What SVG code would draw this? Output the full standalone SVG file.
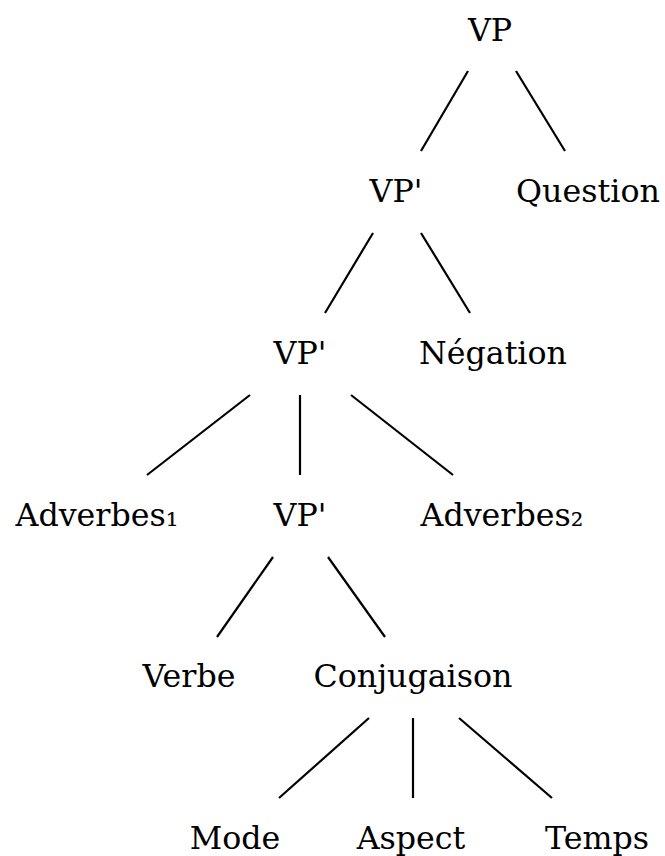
<svg xmlns="http://www.w3.org/2000/svg" width="665" height="856" viewBox="0 0 665 856">
<style>
text{font-family:"DejaVu Serif",serif;font-size:31.7px;fill:#000;text-anchor:middle}
line{stroke:#000;stroke-width:2.2}
</style>
<rect width="665" height="856" fill="#fff"/>
<g id="connectors">
<line x1="468" y1="71" x2="421" y2="151"/>
<line x1="516" y1="71" x2="565" y2="151"/>
<line x1="373" y1="233" x2="325" y2="313"/>
<line x1="421" y1="233" x2="470" y2="313"/>
<line x1="250" y1="395" x2="147" y2="475"/>
<line x1="300" y1="395" x2="300" y2="475"/>
<line x1="351" y1="395" x2="453" y2="475"/>
<line x1="273" y1="557" x2="217" y2="637"/>
<line x1="328" y1="557" x2="385" y2="637"/>
<line x1="369" y1="718" x2="279" y2="798"/>
<line x1="413" y1="718" x2="413" y2="798"/>
<line x1="459" y1="718" x2="552" y2="798"/>
</g>
<g id="n_vp"><text x="490" y="40.5">VP</text></g>
<g id="n_vp1"><text x="396" y="201.5">VP'</text></g>
<g id="n_question"><text x="588" y="201.5">Question</text></g>
<g id="n_vp2"><text x="300" y="363.5">VP'</text></g>
<g id="n_negation"><text x="493" y="363.5">Négation</text></g>
<g id="n_adv1"><text x="97" y="525.5">Adverbes₁</text></g>
<g id="n_vp3"><text x="300" y="525.5">VP'</text></g>
<g id="n_adv2"><text x="502" y="525.5">Adverbes₂</text></g>
<g id="n_verbe"><text x="189" y="686.5">Verbe</text></g>
<g id="n_conj"><text x="413" y="686.5">Conjugaison</text></g>
<g id="n_mode"><text x="235" y="848.5">Mode</text></g>
<g id="n_aspect"><text x="411" y="848.5">Aspect</text></g>
<g id="n_temps"><text x="597" y="848.5">Temps</text></g>
</svg>
